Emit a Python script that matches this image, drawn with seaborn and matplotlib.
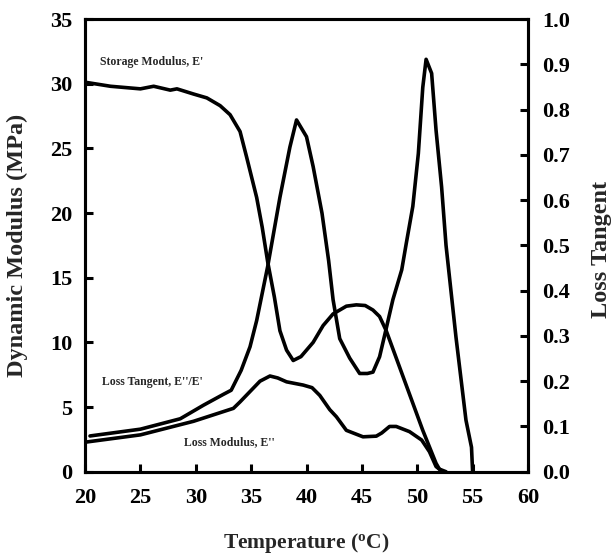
import matplotlib
matplotlib.use("Agg")
import matplotlib.pyplot as plt
import seaborn as sns

# ---------------- data ----------------
storage_T = [20.1, 22.3, 25.0, 26.2, 27.7, 28.3, 29.8, 31.0, 32.2, 33.1, 34.0, 34.6,
             35.5, 36.0, 36.5, 37.1, 37.6, 38.2, 38.8, 39.5, 40.6, 41.5, 42.4, 43.6,
             44.5, 45.3, 46.0, 46.6, 47.2, 48.4, 49.6, 50.5, 51.3, 51.7, 52.0, 52.6]
storage_E = [30.1, 29.8, 29.6, 29.8, 29.5, 29.6, 29.2, 28.9, 28.3, 27.6, 26.3, 24.3,
             21.2, 18.9, 16.2, 13.5, 10.9, 9.4, 8.6, 8.9, 10.0, 11.3, 12.2, 12.8,
             12.9, 12.85, 12.5, 12.0, 10.9, 8.1, 5.3, 3.2, 1.5, 0.65, 0.2, 0.0]

loss_T = [20.15, 25.0, 29.8, 33.4, 34.0, 34.9, 35.8, 36.7, 37.4, 38.2, 39.7, 40.5,
          41.2, 42.1, 42.7, 43.6, 44.2, 45.1, 46.3, 46.8, 47.5, 48.1, 49.3, 50.4,
          51.1, 51.7, 52.3]
loss_E = [2.3, 2.85, 3.9, 4.9, 5.4, 6.2, 7.0, 7.4, 7.25, 6.95, 6.7, 6.5,
          5.9, 4.8, 4.25, 3.2, 3.0, 2.7, 2.75, 3.0, 3.5, 3.5, 3.1, 2.45,
          1.55, 0.4, 0.0]

tan_T = [20.45, 25.0, 28.6, 30.7, 32.5, 33.2, 34.1, 34.9, 35.5, 36.5, 37.6, 38.5,
         39.1, 40.0, 40.6, 41.4, 42.0, 42.4, 43.0, 43.9, 44.8, 45.5, 46.0, 46.6,
         47.1, 47.8, 48.6, 49.0, 49.6, 50.1, 50.5, 50.8, 51.3, 51.7, 52.2, 52.6,
         53.5, 54.4, 54.9, 55.0]
tan_val = [0.079, 0.094, 0.117, 0.147, 0.171, 0.180, 0.224, 0.276, 0.334, 0.454, 0.606, 0.717,
           0.777, 0.740, 0.674, 0.571, 0.466, 0.380, 0.294, 0.251, 0.217, 0.217, 0.220, 0.254,
           0.306, 0.380, 0.446, 0.503, 0.586, 0.703, 0.849, 0.911, 0.880, 0.754, 0.629, 0.500,
           0.297, 0.114, 0.054, 0.0]

x_ticks = [20, 25, 30, 35, 40, 45, 50, 55, 60]
left_ticks = [0, 5, 10, 15, 20, 25, 30, 35]
right_ticks = [0.0, 0.1, 0.2, 0.3, 0.4, 0.5, 0.6, 0.7, 0.8, 0.9, 1.0]

# ---------------- style ----------------
sns.set_style("ticks")
plt.rcParams['font.family'] = ['Liberation Serif', 'DejaVu Serif']
plt.rcParams['font.weight'] = 'bold'
plt.rcParams['mathtext.fontset'] = 'custom'
plt.rcParams['mathtext.rm'] = 'Liberation Serif:bold'
plt.rcParams['mathtext.it'] = 'Liberation Serif:bold'
plt.rcParams['mathtext.bf'] = 'Liberation Serif:bold'

fig = plt.figure(figsize=(6.13, 5.54), dpi=100)
ax = fig.add_axes([0.1387, 0.1485, 0.7226, 0.8172])
ax2 = ax.twinx()

lw = 2.6
sns.lineplot(x=storage_T, y=storage_E, ax=ax, color='black', lw=lw, sort=False, estimator=None)
sns.lineplot(x=loss_T, y=loss_E, ax=ax, color='black', lw=lw, sort=False, estimator=None)
sns.lineplot(x=tan_T, y=tan_val, ax=ax2, color='black', lw=lw, sort=False, estimator=None)

ax.set_xlim(20, 60)
ax.set_ylim(0, 35)
ax2.set_ylim(0, 1.0)
ax.set_xticks(x_ticks)
ax.set_yticks(left_ticks)
ax2.set_yticks(right_ticks)
ax.set_xticklabels([str(v) for v in x_ticks])
ax.set_yticklabels([str(v) for v in left_ticks])
ax2.set_yticklabels([f"{v:.1f}" for v in right_ticks])

for a in (ax, ax2):
    for s in a.spines.values():
        s.set_linewidth(2.2)
        s.set_color('black')
        s.set_visible(True)

ax.tick_params(axis='both', direction='in', length=6, width=2.2, labelsize=16,
               top=False, right=False, colors='black')
ax.tick_params(axis='x', pad=12)
ax.tick_params(axis='y', pad=9)
ax2.tick_params(axis='y', direction='in', length=6, width=2.2, labelsize=16, pad=10,
                colors='black')

ax.set_xlabel(r'Temperature ($\mathrm{^{o}}$C)', fontsize=15.5, fontweight='bold')
ax.set_ylabel('Dynamic Modulus (MPa)', fontsize=17.5, fontweight='bold')
ax2.set_ylabel('Loss Tangent', fontsize=17.5, fontweight='bold', rotation=90)
ax.xaxis.set_label_coords(0.5, -0.131)
ax.yaxis.set_label_coords(-0.129, 0.5)
ax2.yaxis.set_label_coords(1.142, 0.49)

ax.text(21.35, 31.7, "Storage Modulus, E'", fontsize=8.5, fontweight='bold', ha='left', va='center')
ax.text(21.5, 6.9, "Loss Tangent, E''/E'", fontsize=8.5, fontweight='bold', ha='left', va='center')
ax.text(28.9, 2.3, "Loss Modulus, E''", fontsize=8.5, fontweight='bold', ha='left', va='center')

fig.savefig('out.png', dpi=100)
